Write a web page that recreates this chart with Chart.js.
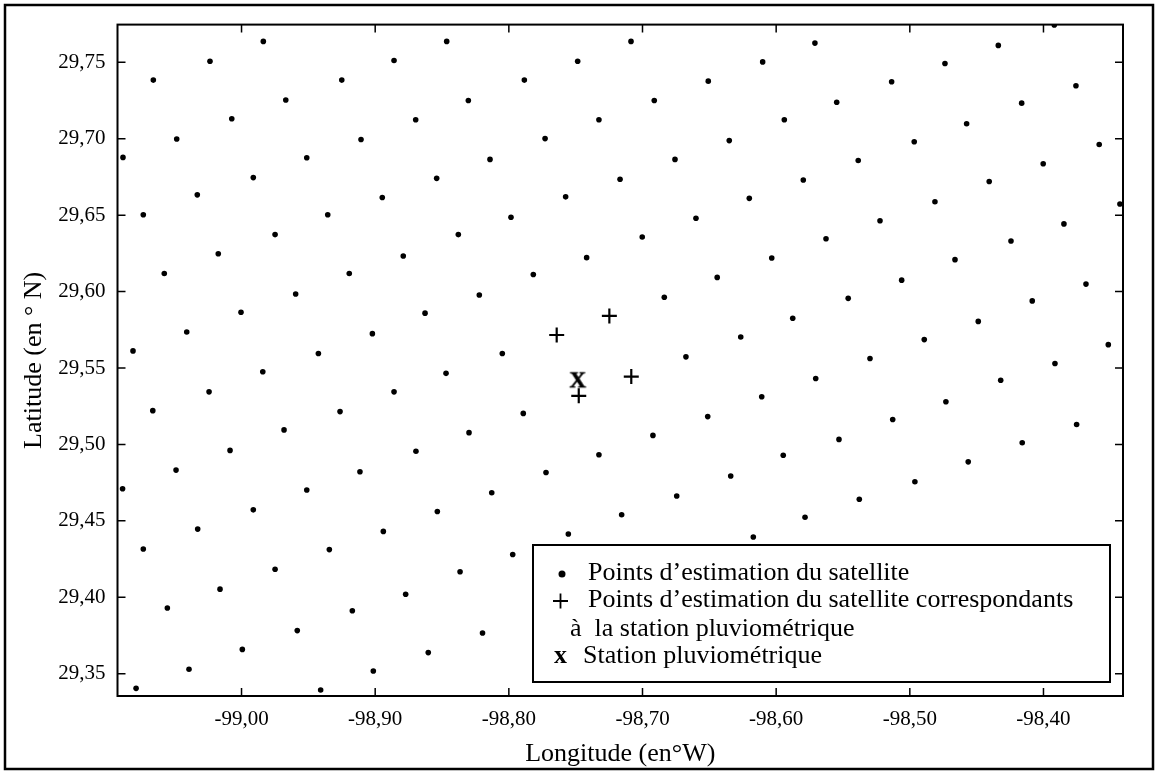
<!DOCTYPE html>
<html>
<head>
<meta charset="utf-8">
<script src="https://cdn.jsdelivr.net/npm/chart.js@4"></script>
<style>
  html, body { margin: 0; padding: 0; background: #fff; }
  canvas { display: block; }
</style>
</head>
<body>
<canvas id="c" width="1158" height="774"></canvas>
<script>
// ---------- data ----------
const xTicks = [-99.0, -98.9, -98.8, -98.7, -98.6, -98.5, -98.4];
const yTicks = [29.35, 29.40, 29.45, 29.50, 29.55, 29.60, 29.65, 29.70, 29.75];

const satLon = [
  -98.3919,
  -98.9837,-98.8465,-98.7086,-98.5710,-98.4338,
  -99.0236,-98.8859,-98.7485,-98.6101,-98.4737,
  -99.0660,-98.9250,-98.7884,-98.6508,-98.5136,-98.3757,
  -98.9669,-98.8303,-98.6912,-98.5547,-98.4163,
  -99.0073,-98.8697,-98.7326,-98.5939,-98.4575,
  -99.0485,-98.9106,-98.7729,-98.6351,-98.4967,-98.3583,
  -99.0887,-98.9512,-98.8141,-98.6757,-98.5386,-98.4002,
  -98.9912,-98.8540,-98.7168,-98.5797,-98.4406,
  -99.0331,-98.8947,-98.7575,-98.6201,-98.4812,-98.3428,
  -99.0735,-98.9355,-98.7984,-98.6600,-98.5223,-98.3847,
  -98.9749,-98.8378,-98.7002,-98.5627,-98.4243,
  -99.0174,-98.8790,-98.7418,-98.6033,-98.4662,
  -99.0578,-98.9194,-98.7817,-98.6441,-98.5061,-98.3682,
  -98.9595,-98.8221,-98.6837,-98.5461,-98.4084,
  -99.0004,-98.8627,-98.5876,-98.4488,
  -99.0410,-98.9021,-98.6265,-98.4892,-98.3515,
  -99.0812,-98.9425,-98.8049,-98.6675,-98.5298,-98.3914,
  -98.9841,-98.8470,-98.5704,-98.4320,
  -99.0243,-98.8859,-98.6108,-98.4730,
  -99.0664,-98.9263,-98.7892,-98.6512,-98.5128,-98.3752,
  -98.9682,-98.8298,-98.6922,-98.5530,-98.4159,
  -99.0086,-98.8695,-98.7326,-98.5947,-98.4563,
  -99.0490,-98.9114,-98.7722,-98.6340,-98.4962,
  -99.0890,-98.9512,-98.8128,-98.6744,-98.5378,
  -98.9912,-98.8535,-98.7156,-98.5784,
  -99.0328,-98.8939,-98.7555,-98.6171,
  -99.0735,-98.9343,-98.7971,
  -98.9749,-98.8365,
  -99.0161,-98.8772,
  -99.0555,-98.9171,
  -98.9583,-98.8197,
  -98.9994,-98.8603,
  -99.0393,-98.9014,
  -99.0789,-98.9408
];
const satLat = [
  29.7745,
  29.7637,29.7637,29.7637,29.7626,29.7611,
  29.7507,29.7512,29.7507,29.7503,29.7492,
  29.7384,29.7384,29.7384,29.7377,29.7373,29.7347,
  29.7254,29.7250,29.7250,29.7239,29.7233,
  29.7131,29.7124,29.7124,29.7124,29.7098,
  29.6998,29.6995,29.7001,29.6988,29.6980,29.6962,
  29.6878,29.6876,29.6865,29.6865,29.6858,29.6837,
  29.6746,29.6741,29.6735,29.6730,29.6720,
  29.6633,29.6616,29.6620,29.6610,29.6588,29.6573,
  29.6503,29.6503,29.6486,29.6480,29.6464,29.6443,
  29.6373,29.6373,29.6357,29.6346,29.6331,
  29.6248,29.6233,29.6222,29.6220,29.6209,
  29.6118,29.6118,29.6112,29.6093,29.6075,29.6049,
  29.5984,29.5978,29.5963,29.5956,29.5939,
  29.5865,29.5859,29.5826,29.5805,
  29.5736,29.5725,29.5703,29.5686,29.5653,
  29.5612,29.5595,29.5595,29.5573,29.5562,29.5530,
  29.5476,29.5465,29.5431,29.5420,
  29.5344,29.5344,29.5312,29.5279,
  29.5221,29.5215,29.5203,29.5182,29.5163,29.5130,
  29.5095,29.5077,29.5059,29.5033,29.5011,
  29.4961,29.4955,29.4933,29.4929,29.4886,
  29.4832,29.4821,29.4816,29.4793,29.4756,
  29.4710,29.4702,29.4684,29.4663,29.4641,
  29.4572,29.4561,29.4540,29.4524,
  29.4446,29.4431,29.4414,29.4394,
  29.4316,29.4312,29.4280,
  29.4183,29.4167,
  29.4053,29.4020,
  29.3930,29.3912,
  29.3782,29.3766,
  29.3659,29.3638,
  29.3529,29.3518,
  29.3404,29.3393
];

const corrLon = [-98.7248, -98.7642, -98.7084, -98.7477];
const corrLat = [29.5841, 29.5716, 29.5444, 29.5318];

const stationLon = [-98.7485];
const stationLat = [29.5426];

const seriesNames = [
  'Points d\u2019estimation du satellite',
  'Points d\u2019estimation du satellite correspondants',
  'Station pluviom\u00e9trique'
];
const legendLines = [
  'Points d\u2019estimation du satellite',
  'Points d\u2019estimation du satellite correspondants',
  '\u00e0  la station pluviom\u00e9trique',
  'Station pluviom\u00e9trique'
];
const xTitle = 'Longitude (en\u00b0W)';
const yTitle = 'Latitude (en \u00b0 N)';

// ---------- styling ----------
const SERIF = '"Liberation Serif", "Times New Roman", serif';

function glyphCanvas(ch, font, size, baseShift) {
  const c = document.createElement('canvas');
  c.width = size; c.height = size;
  const g = c.getContext('2d');
  g.font = font;
  g.fillStyle = '#000';
  g.strokeStyle = '#000';
  g.lineWidth = 0.6;
  g.textAlign = 'center';
  g.textBaseline = 'alphabetic';
  g.fillText(ch, size / 2, size / 2 + baseShift);
  g.strokeText(ch, size / 2, size / 2 + baseShift);
  return c;
}
const xMark = glyphCanvas('X', 'bold 23px ' + SERIF, 28, 8);

const toXY = (xs, ys) => xs.map((x, i) => ({ x: x, y: ys[i] }));
const fmt = v => v.toFixed(2).replace('.', ',');

const framePlugin = {
  id: 'frameAndLegend',
  beforeDraw(chart) {
    const ctx = chart.ctx;
    ctx.save();
    ctx.fillStyle = '#fff';
    ctx.fillRect(0, 0, chart.width, chart.height);
    ctx.restore();
  },
  afterDatasetsDraw(chart) {
    const ctx = chart.ctx;
    const a = chart.chartArea;
    const xs = chart.scales.x, ys = chart.scales.y;
    ctx.save();
    // plot frame
    ctx.strokeStyle = '#000';
    ctx.lineWidth = 2;
    ctx.strokeRect(a.left, a.top, a.right - a.left, a.bottom - a.top);
    // inward ticks on all four sides
    ctx.lineWidth = 1.5;
    const tl = 8;
    ctx.beginPath();
    xTicks.forEach(v => {
      const px = xs.getPixelForValue(v);
      ctx.moveTo(px, a.bottom); ctx.lineTo(px, a.bottom - tl);
      ctx.moveTo(px, a.top); ctx.lineTo(px, a.top + tl);
    });
    yTicks.forEach(v => {
      const py = ys.getPixelForValue(v);
      ctx.moveTo(a.left, py); ctx.lineTo(a.left + tl, py);
      ctx.moveTo(a.right, py); ctx.lineTo(a.right - tl, py);
    });
    ctx.stroke();

    // legend box inside plot, lower right
    const bw = 577, bh = 137;
    const bx = a.right - 13 - bw, by = a.bottom - 14 - bh;
    ctx.fillStyle = '#fff';
    ctx.fillRect(bx, by, bw, bh);
    ctx.lineWidth = 2;
    ctx.strokeRect(bx, by, bw, bh);

    ctx.fillStyle = '#000';
    ctx.font = '26px ' + SERIF;
    ctx.textBaseline = 'middle';
    ctx.textAlign = 'left';
    const rows = [28, 55, 84, 111];
    // symbol 1: dot
    ctx.beginPath();
    ctx.arc(bx + 29, by + rows[0] + 1, 3.5, 0, Math.PI * 2);
    ctx.fill();
    // symbol 2: plus
    ctx.lineWidth = 1.8;
    ctx.beginPath();
    ctx.moveTo(bx + 20, by + rows[1] + 1); ctx.lineTo(bx + 35, by + rows[1] + 1);
    ctx.moveTo(bx + 27.5, by + rows[1] - 6.5); ctx.lineTo(bx + 27.5, by + rows[1] + 8.5);
    ctx.stroke();
    // symbol 3: x
    ctx.font = 'bold 26px ' + SERIF;
    ctx.textAlign = 'center';
    ctx.fillText('x', bx + 27.5, by + rows[3]);
    ctx.textAlign = 'left';
    ctx.font = '26px ' + SERIF;
    ctx.fillText(legendLines[0], bx + 55, by + rows[0]);
    ctx.fillText(legendLines[1], bx + 55, by + rows[1]);
    ctx.fillText(legendLines[2], bx + 37, by + rows[2]);
    ctx.fillText(legendLines[3], bx + 50, by + rows[3]);

    // outer figure frame
    ctx.lineWidth = 2.5;
    ctx.strokeRect(5, 5, chart.width - 10, chart.height - 10);
    ctx.restore();
  }
};

new Chart(document.getElementById('c'), {
  type: 'scatter',
  data: {
    datasets: [
      {
        label: seriesNames[0],
        data: toXY(satLon, satLat),
        pointStyle: 'circle',
        pointRadius: 2.8,
        pointBackgroundColor: '#000',
        pointBorderWidth: 0,
        showLine: false
      },
      {
        label: seriesNames[1],
        data: toXY(corrLon, corrLat),
        pointStyle: 'cross',
        pointRadius: 7.5,
        pointBorderColor: '#000',
        pointBorderWidth: 2.2,
        showLine: false
      },
      {
        label: seriesNames[2],
        data: toXY(stationLon, stationLat),
        pointStyle: xMark,
        pointRadius: 8,
        showLine: false
      }
    ]
  },
  options: {
    responsive: false,
    animation: false,
    devicePixelRatio: 1,
    layout: { padding: { left: 0, right: 35, top: 19, bottom: 0 } },
    plugins: {
      legend: { display: false },
      tooltip: { enabled: false }
    },
    scales: {
      x: {
        type: 'linear',
        min: -99.0928,
        max: -98.3405,
        afterBuildTicks: s => { s.ticks = xTicks.map(v => ({ value: v })); },
        afterFit: s => { s.height = 78; },
        grid: { display: false, drawTicks: false },
        border: { display: false },
        ticks: {
          callback: v => fmt(v),
          color: '#000',
          font: { family: SERIF, size: 21 },
          padding: 11,
          maxRotation: 0,
          autoSkip: false
        },
        title: {
          display: true,
          text: xTitle,
          color: '#000',
          font: { family: SERIF, size: 26 },
          padding: { top: 0, bottom: 4 }
        }
      },
      y: {
        type: 'linear',
        min: 29.3354,
        max: 29.7747,
        afterBuildTicks: s => { s.ticks = yTicks.map(v => ({ value: v })); },
        afterFit: s => { s.width = 117.5; },
        grid: { display: false, drawTicks: false },
        border: { display: false },
        ticks: {
          callback: v => fmt(v),
          color: '#000',
          font: { family: SERIF, size: 21 },
          padding: 12,
          autoSkip: false
        },
        title: {
          display: true,
          text: yTitle,
          color: '#000',
          font: { family: SERIF, size: 26 },
          padding: { top: 19, bottom: 0 }
        }
      }
    }
  },
  plugins: [framePlugin]
});
</script>
</body>
</html>
